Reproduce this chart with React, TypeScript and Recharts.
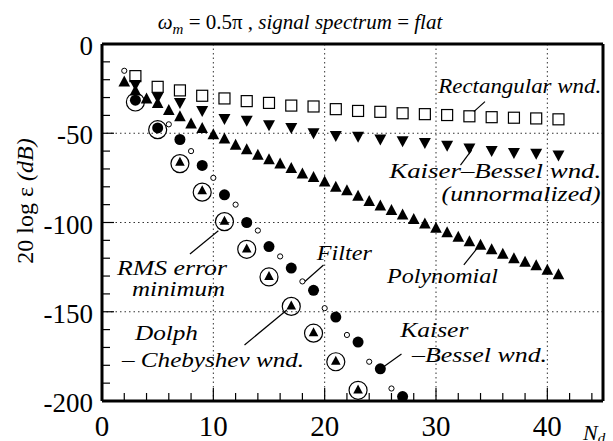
import React from "react";
import {
  ReferenceDot,
  ReferenceLine,
  Scatter,
  ScatterChart,
  XAxis,
  YAxis,
} from "recharts";

// axis ticks and grid
const xTicks = [0, 2, 4, 6, 8, 10, 12, 14, 16, 18, 20, 22, 24, 26, 28, 30, 32, 34, 36, 38, 40, 42, 44];
const yTicks = [0, -10, -20, -30, -40, -50, -60, -70, -80, -90, -100, -110, -120, -130, -140, -150, -160, -170, -180, -190, -200];
const xGrid = [10, 20, 30, 40];
const yGrid = [-50, -100, -150];

// Rectangular wnd. (open squares)
const rectX = [3, 5, 7, 9, 11, 13, 15, 17, 19, 21, 23, 25, 27, 29, 31, 33, 35, 37, 39, 41];
const rectY = [-18, -24, -26, -29, -30.5, -32, -33, -34.5, -35, -36.5, -37.5, -38, -38.8, -39.3, -39.8, -40.5, -41, -41.3, -41.7, -42.2];

// Kaiser-Bessel wnd. (unnormalized) (filled down triangles)
const kbuX = [3, 5, 7, 9, 11, 13, 15, 17, 19, 21, 23, 25, 27, 29, 31, 33, 35, 37, 39, 41];
const kbuY = [-23, -30, -33, -37.5, -42, -43, -45.5, -47, -50, -51.5, -52, -53.5, -54.5, -55.5, -57, -58.5, -60, -61, -61.5, -62.5];

// Polynomial (filled up triangles)
const polyX = [2, 3, 4, 5, 6, 7, 8, 9, 10, 11, 12, 13, 14, 15, 16, 17, 18, 19, 20, 21, 22, 23, 24, 25, 26, 27, 28, 29, 30, 31, 32, 33, 34, 35, 36, 37, 38, 39, 40, 41];
const polyY = [-21, -26, -30.5, -33, -37, -40.5, -44.5, -47, -50.5, -53, -56.5, -59, -62, -64.5, -67, -69.5, -72.5, -74.5, -77, -80, -82, -85, -88, -90.5, -93, -95.5, -98, -100.5, -103, -105.5, -108, -110.5, -112.5, -115, -117.5, -120, -122, -124, -126.5, -129];

// Kaiser-Bessel wnd. (filled circles)
const kbX = [3, 5, 7, 9, 11, 13, 15, 17, 19, 21, 23, 25, 27];
const kbY = [-31.5, -47, -53.5, -68, -84.5, -100, -113.5, -125.5, -138, -153, -167, -182, -197.5];

// RMS error minimum (large open circles)
const rmsX = [3, 5, 7, 9, 11, 13, 15, 17, 19, 21, 23];
const rmsY = [-32.5, -48, -67, -83, -99.5, -115, -130.5, -147, -162, -178, -194];

// Dolph-Chebyshev wnd. (triangles inside the large circles)
const dolphX = [7, 9, 11, 13, 15, 17, 19, 21, 23];
const dolphY = [-66, -82, -99, -114.5, -130, -146.5, -161.5, -177.5, -193.5];

// Filter (small open circles)
const filterX = [2, 6, 8, 10, 12, 14, 16, 18, 20, 22, 24, 26];
const filterY = [-15, -45, -60, -75, -90, -104.5, -119, -133, -148, -163, -178, -193];

const zip = (xs: number[], ys: number[]) => xs.map((x, i) => ({ x, y: ys[i] }));

const W = 613;
const H = 441;
const FRAME = { left: 102, right: 603, top: 44, bottom: 401 };
const SERIF = "'Liberation Serif', 'DejaVu Serif', serif";

// annotation text, in data units: [text, x, y, fontSize, textLength]
const notes: Array<[string, number, number, number, number]> = [
  ["Rectangular wnd.", 30.2, -27.5, 22, 163],
  ["Kaiser\u2013Bessel wnd.", 25.8, -75.3, 22, 212],
  ["(unnormalized)", 30.5, -88, 20, 159],
  ["Polynomial", 25.6, -133.9, 22, 111],
  ["RMS error", 1.35, -129.6, 21, 110],
  ["minimum", 2.7, -141, 21, 93],
  ["Dolph", 2.96, -165.8, 22, 63],
  ["\u2013 Chebyshev wnd.", 1.8, -181, 22, 182],
  ["Filter", 19.3, -121, 22, 55],
  ["Kaiser", 26.8, -164.1, 22, 68],
  ["\u2013Bessel wnd.", 27.85, -178.2, 22, 135],
];

// leader lines, in data units
const pointers: Array<[number, number, number, number]> = [
  [34.4, -32.3, 33.4, -37.9],
  [32.2, -67.8, 33.2, -59.4],
  [32.5, -123.8, 33.8, -113.6],
  [7.9, -117.6, 10.45, -104.6],
  [19.9, -123.8, 18.2, -133.2],
  [12.8, -168.6, 16.6, -149],
  [26.9, -173.7, 25.3, -180.8],
];

function BottomTick(props: any) {
  const { x, payload } = props;
  const v = payload.value as number;
  const major = v % 10 === 0;
  return (
    <g>
      {v > 0 && (
        <line x1={x} x2={x} y1={FRAME.bottom} y2={FRAME.bottom - (major ? 13 : 8)} stroke="#000" strokeWidth={1.2} />
      )}
      {major && v <= 40 && (
        <text x={x} y={FRAME.bottom + 35} textAnchor="middle" fontFamily={SERIF} fontSize={29} fill="#000">
          {v}
        </text>
      )}
    </g>
  );
}

function TopTick(props: any) {
  const { x, payload } = props;
  const v = payload.value as number;
  if (v <= 0) return <g />;
  return <line x1={x} x2={x} y1={FRAME.top} y2={FRAME.top + (v % 10 === 0 ? 10 : 8)} stroke="#000" strokeWidth={1.2} />;
}

function LeftTick(props: any) {
  const { y, payload } = props;
  const v = payload.value as number;
  const major = v % 50 === 0;
  return (
    <g>
      {v < 0 && v > -200 && (
        <line x1={FRAME.left} x2={FRAME.left + (major ? 12 : 8)} y1={y} y2={y} stroke="#000" strokeWidth={1.2} />
      )}
      {major && (
        <text x={FRAME.left - 9} y={y + 11} textAnchor="end" fontFamily={SERIF} fontSize={27} fill="#000">
          {v}
        </text>
      )}
    </g>
  );
}

function RightTick(props: any) {
  const { y, payload } = props;
  const v = payload.value as number;
  if (v >= 0 || v <= -200) return <g />;
  return <line x1={FRAME.right} x2={FRAME.right - 8} y1={y} y2={y} stroke="#000" strokeWidth={1.2} />;
}

const OpenSquare = (p: any) => (
  <rect x={p.cx - 5.5} y={p.cy - 5.5} width={11} height={11} fill="none" stroke="#000" strokeWidth={1.2} />
);
const DownTri = (p: any) => (
  <path d={`M${p.cx - 6},${p.cy - 5} L${p.cx + 6},${p.cy - 5} L${p.cx},${p.cy + 6} Z`} fill="#000" />
);
const UpTri = (p: any) => (
  <path d={`M${p.cx - 5.8},${p.cy + 5} L${p.cx + 5.8},${p.cy + 5} L${p.cx},${p.cy - 6} Z`} fill="#000" />
);
const SmallUpTri = (p: any) => (
  <path d={`M${p.cx - 4.8},${p.cy + 4} L${p.cx + 4.8},${p.cy + 4} L${p.cx},${p.cy - 5} Z`} fill="#000" />
);
const Dot = (p: any) => <circle cx={p.cx} cy={p.cy} r={5.5} fill="#000" />;
const BigRing = (p: any) => <circle cx={p.cx} cy={p.cy} r={9} fill="none" stroke="#000" strokeWidth={1.2} />;
const SmallRing = (p: any) => <circle cx={p.cx} cy={p.cy} r={2.6} fill="#fff" stroke="#000" strokeWidth={1} />;

export default function App() {
  const frameLine = { stroke: "#000", strokeWidth: 3 };
  return (
    <div style={{ position: "absolute", left: 0, top: 0, width: W, height: H, background: "#fff" }}>
      <ScatterChart width={W} height={H} margin={{ top: 0, right: 0, bottom: 0, left: 0 }}>
        <XAxis
          xAxisId="b"
          type="number"
          dataKey="x"
          domain={[0, 45]}
          ticks={xTicks}
          interval={0}
          height={H - FRAME.bottom}
          axisLine={frameLine}
          tickLine={false}
          tickSize={0}
          tick={(p: any) => <BottomTick {...p} />}
        />
        <XAxis
          xAxisId="t"
          orientation="top"
          type="number"
          domain={[0, 45]}
          ticks={xTicks}
          interval={0}
          height={FRAME.top}
          axisLine={frameLine}
          tickLine={false}
          tickSize={0}
          tick={(p: any) => <TopTick {...p} />}
        />
        <YAxis
          yAxisId="l"
          type="number"
          dataKey="y"
          domain={[-200, 0]}
          ticks={yTicks}
          interval={0}
          width={FRAME.left}
          axisLine={frameLine}
          tickLine={false}
          tickSize={0}
          tick={(p: any) => <LeftTick {...p} />}
        />
        <YAxis
          yAxisId="r"
          orientation="right"
          type="number"
          domain={[-200, 0]}
          ticks={yTicks}
          interval={0}
          width={W - FRAME.right}
          axisLine={frameLine}
          tickLine={false}
          tickSize={0}
          tick={(p: any) => <RightTick {...p} />}
        />

        {xGrid.map((g) => (
          <ReferenceLine key={`gx${g}`} xAxisId="b" yAxisId="l" x={g} stroke="#333" strokeWidth={1} strokeDasharray="1.5 3" />
        ))}
        {yGrid.map((g) => (
          <ReferenceLine key={`gy${g}`} xAxisId="b" yAxisId="l" y={g} stroke="#333" strokeWidth={1} strokeDasharray="1.5 3" />
        ))}

        <Scatter xAxisId="b" yAxisId="l" data={zip(rectX, rectY)} shape={OpenSquare} isAnimationActive={false} />
        <Scatter xAxisId="b" yAxisId="l" data={zip(kbuX, kbuY)} shape={DownTri} isAnimationActive={false} />
        <Scatter xAxisId="b" yAxisId="l" data={zip(polyX, polyY)} shape={UpTri} isAnimationActive={false} />
        <Scatter xAxisId="b" yAxisId="l" data={zip(rmsX, rmsY)} shape={BigRing} isAnimationActive={false} />
        <Scatter xAxisId="b" yAxisId="l" data={zip(dolphX, dolphY)} shape={SmallUpTri} isAnimationActive={false} />
        <Scatter xAxisId="b" yAxisId="l" data={zip(kbX, kbY)} shape={Dot} isAnimationActive={false} />
        <Scatter xAxisId="b" yAxisId="l" data={zip(filterX, filterY)} shape={SmallRing} isAnimationActive={false} />

        {pointers.map(([x1, y1, x2, y2], i) => (
          <ReferenceLine
            key={`p${i}`}
            xAxisId="b"
            yAxisId="l"
            segment={[{ x: x1, y: y1 }, { x: x2, y: y2 }]}
            stroke="#000"
            strokeWidth={1.2}
          />
        ))}
        {notes.map(([text, x, y, size, len]) => (
          <ReferenceDot
            key={text}
            xAxisId="b"
            yAxisId="l"
            x={x}
            y={y}
            r={0}
            ifOverflow="visible"
            shape={(p: any) => (
              <text
                x={p.cx}
                y={p.cy}
                fontFamily={SERIF}
                fontStyle="italic"
                fontSize={size}
                textLength={len}
                lengthAdjust="spacingAndGlyphs"
                fill="#000"
              >
                {text}
              </text>
            )}
          />
        ))}
      </ScatterChart>

      <svg width={W} height={H} style={{ position: "absolute", left: 0, top: 0, pointerEvents: "none" }}>
        <text x={300} y={29} textAnchor="middle" fontFamily={SERIF} fontSize={21} fill="#000">
          <tspan fontStyle="italic">{"\u03c9"}</tspan>
          <tspan fontStyle="italic" fontSize={15} dy={5}>m</tspan>
          <tspan dy={-5}>{" = 0.5\u03c0 , "}</tspan>
          <tspan fontStyle="italic">signal spectrum</tspan>
          <tspan>{" = "}</tspan>
          <tspan fontStyle="italic">flat</tspan>
        </text>
        <text
          transform="translate(33, 201) rotate(-90)"
          textAnchor="middle"
          fontFamily={SERIF}
          fontSize={24}
          fill="#000"
        >
          {"20 log \u03b5 "}
          <tspan fontStyle="italic">(dB)</tspan>
        </text>
        <text x={583} y={440} fontFamily={SERIF} fontStyle="italic" fontSize={22} fill="#000">
          N
          <tspan fontSize={15} dy={3}>d</tspan>
        </text>
      </svg>
    </div>
  );
}
